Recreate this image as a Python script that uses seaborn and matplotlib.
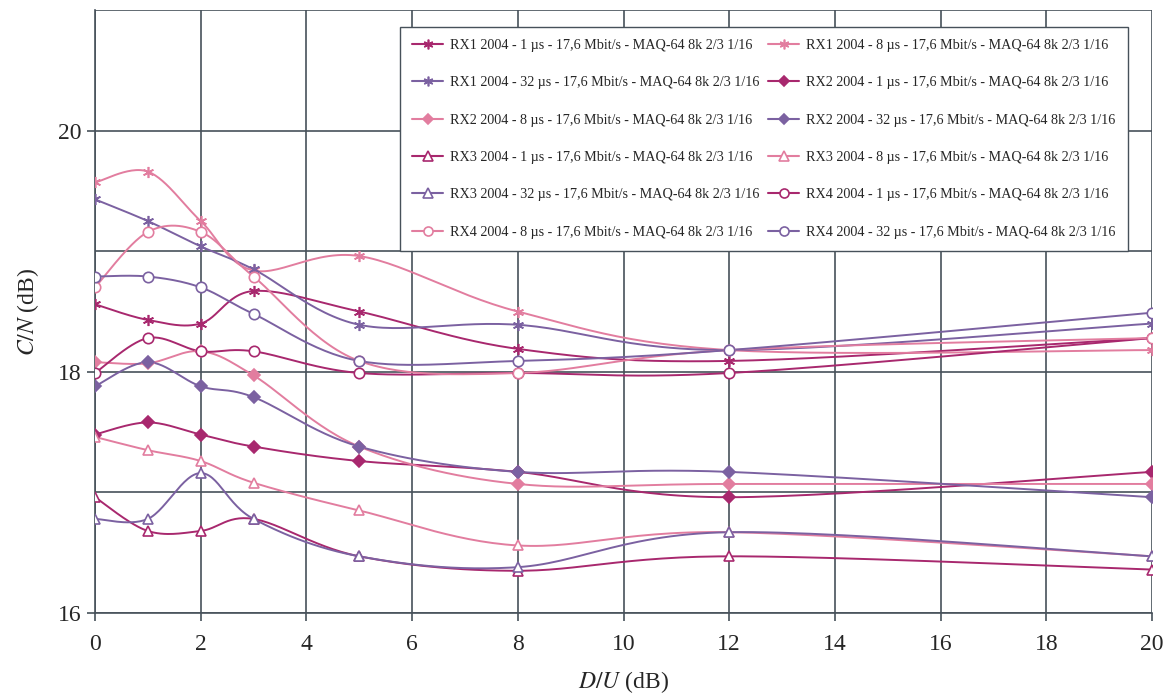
import numpy as np
import pandas as pd
import matplotlib
matplotlib.use('Agg')
import matplotlib.pyplot as plt
from matplotlib.lines import Line2D
import seaborn as sns

# D/U values (dB)
du = [0, 1, 2, 3, 5, 8, 12, 20]

# C/N values (dB), one list per receiver / delay
rx1_1 = [18.56, 18.43, 18.40, 18.67, 18.50, 18.19, 18.09, 18.28]
rx1_8 = [19.57, 19.66, 19.25, 18.84, 18.96, 18.50, 18.18, 18.18]
rx1_32 = [19.43, 19.25, 19.04, 18.85, 18.39, 18.39, 18.18, 18.40]
rx2_1 = [17.48, 17.58, 17.48, 17.38, 17.26, 17.17, 16.96, 17.17]
rx2_8 = [18.08, 18.07, 18.17, 17.97, 17.38, 17.07, 17.07, 17.07]
rx2_32 = [17.88, 18.08, 17.88, 17.79, 17.38, 17.17, 17.17, 16.96]
rx3_1 = [16.96, 16.68, 16.68, 16.78, 16.47, 16.35, 16.47, 16.36]
rx3_8 = [17.46, 17.35, 17.26, 17.08, 16.85, 16.56, 16.67, 16.47]
rx3_32 = [16.78, 16.78, 17.16, 16.78, 16.47, 16.38, 16.67, 16.47]
rx4_1 = [17.99, 18.28, 18.17, 18.17, 17.99, 17.99, 17.99, 18.28]
rx4_8 = [18.70, 19.16, 19.16, 18.79, 18.09, 17.99, 18.18, 18.28]
rx4_32 = [18.79, 18.79, 18.70, 18.48, 18.09, 18.09, 18.18, 18.49]

series = [
    ('RX1', '1', rx1_1), ('RX1', '8', rx1_8), ('RX1', '32', rx1_32),
    ('RX2', '1', rx2_1), ('RX2', '8', rx2_8), ('RX2', '32', rx2_32),
    ('RX3', '1', rx3_1), ('RX3', '8', rx3_8), ('RX3', '32', rx3_32),
    ('RX4', '1', rx4_1), ('RX4', '8', rx4_8), ('RX4', '32', rx4_32),
]

colors = {'1': '#a8286e', '8': '#e27d9f', '32': '#7b61a1'}
markers = {'RX1': (6, 2, 0), 'RX2': 'D', 'RX3': '^', 'RX4': 'o'}
filled = {'RX1': True, 'RX2': True, 'RX3': False, 'RX4': False}
msize = {'RX1': 8, 'RX2': 6, 'RX3': 7.5, 'RX4': 7.5}


def smooth(x, y, n=30):
    # Excel-like smoothed line (Catmull-Rom as cubic Bezier)
    p = np.column_stack([x, y]).astype(float)
    p = np.vstack([p[0], p, p[-1]])
    out = []
    for i in range(1, len(p) - 2):
        p0, p1, p2, p3 = p[i - 1], p[i], p[i + 1], p[i + 2]
        c1 = p1 + (p2 - p0) / 6
        c2 = p2 - (p3 - p1) / 6
        t = np.linspace(0, 1, n)[:, None]
        seg = ((1 - t) ** 3) * p1 + 3 * ((1 - t) ** 2) * t * c1 + 3 * (1 - t) * t ** 2 * c2 + t ** 3 * p2
        out.append(seg if i == 1 else seg[1:])
    out = np.vstack(out)
    return out[:, 0], out[:, 1]


sns.set_theme(style='white')
plt.rcParams['font.family'] = ['Liberation Serif', 'DejaVu Serif']
plt.rcParams['mathtext.fontset'] = 'stix'

fig = plt.figure(figsize=(11.74, 7), dpi=100)
ax = fig.add_axes([0.0809, 0.1243, 0.9004, 0.8614])

handles = []
labels = []
for rx, us, vals in series:
    c = colors[us]
    xs, ys = smooth(du, vals)
    sns.lineplot(x=xs, y=ys, ax=ax, color=c, lw=1.4, sort=False, estimator=None, zorder=3)
    fc = c if filled[rx] else 'white'
    ax.plot(du, vals, ls='none', marker=markers[rx], ms=msize[rx], mfc=fc, mec=c, mew=1.2, zorder=4)
    handles.append(Line2D([], [], color=c, lw=1.5, marker=markers[rx], ms=msize[rx] - 1,
                          mfc=fc, mec=c, mew=1.2))
    labels.append(f'{rx} 2004 - {us} \u00b5s - 17,6 Mbit/s - MAQ-64 8k 2/3 1/16')

ax.set_xlim(0, 20)
ax.set_ylim(16, 21)
ax.set_xticks(np.arange(0, 21, 2))
ax.set_yticks([16, 18, 20])
ax.set_yticks([17, 19, 21], minor=True)
ax.grid(True, which='major', color='#47515a', lw=1.2)
ax.grid(True, which='minor', axis='y', color='#47515a', lw=1.2)
ax.tick_params(axis='both', which='major', labelsize=17, direction='out', length=6,
               width=1.2, color='#47515a', bottom=True, left=True)
ax.tick_params(axis='x', which='major', pad=9)
ax.tick_params(axis='y', which='major', pad=4)
ax.tick_params(axis='y', which='minor', length=0)
for s in ['top', 'right']:
    ax.spines[s].set_visible(False)
for s in ['left', 'bottom']:
    ax.spines[s].set_color('#47515a')
    ax.spines[s].set_linewidth(1.2)

ax.set_xlabel('$D/U$ (dB)', fontsize=17, labelpad=10)
ax.set_ylabel('$C/N$ (dB)', fontsize=17, labelpad=12)

# legend filled row by row (two columns)
order = list(range(0, 12, 2)) + list(range(1, 12, 2))
leg = ax.legend([handles[i] for i in order], [labels[i] for i in order], ncol=2,
                loc='upper left', bbox_to_anchor=(0.2885, 0.972), borderaxespad=0,
                fontsize=10.2, frameon=True, fancybox=False, framealpha=1,
                edgecolor='#47515a', labelspacing=1.72, handlelength=2.2,
                handletextpad=0.5, columnspacing=0.6, borderpad=0.85)
leg.get_frame().set_linewidth(1.0)
leg.set_zorder(10)

fig.savefig('out.png', dpi=100)
